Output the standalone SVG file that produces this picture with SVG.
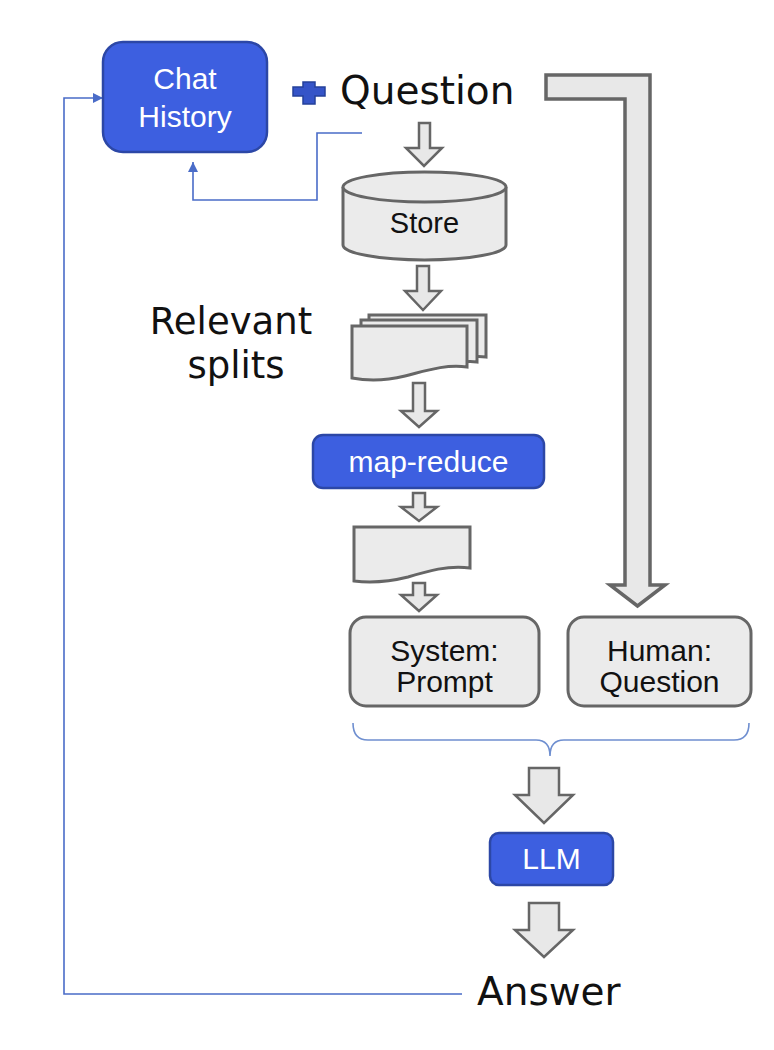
<svg xmlns="http://www.w3.org/2000/svg" width="774" height="1050" viewBox="0 0 774 1050">
<defs>
<style>
.blue{fill:#3d5fe0;stroke:#2c47a6;stroke-width:2.5}
.gray{fill:#ebebeb;stroke:#666;stroke-width:3}
.harrow{fill:#e8e8e8;stroke:#666;stroke-width:2.5;stroke-linejoin:miter}
.wt{font-family:"Liberation Sans",Arial,sans-serif;font-size:30px;fill:#fff;text-anchor:middle}
.bt{font-family:"Liberation Sans",Arial,sans-serif;font-size:30px;fill:#111;text-anchor:middle}
.big{font-family:"DejaVu Sans","Open Sans",sans-serif;font-size:39px;fill:#111}
.conn{fill:none;stroke:#4a6cc8;stroke-width:1.6}
.brace{fill:none;stroke:#6f8fd0;stroke-width:1.6}
</style>
<marker id="ah" viewBox="0 0 10 10" refX="10" refY="5" markerWidth="10" markerHeight="10" markerUnits="userSpaceOnUse" orient="auto">
<path d="M0,0 L10,5 L0,10 Z" fill="#4a6cc8"/>
</marker>
</defs>

<g id="connectors">
<path class="conn" d="M462,994 H64 V98 H103" marker-end="url(#ah)"/>
<path class="conn" d="M362,133 H317 V200 H193 V162" marker-end="url(#ah)"/>
<path class="brace" d="M353,723 Q353,740 368,740 H536 Q550,740 550,756 Q550,740 564,740 H734 Q749,740 749,723"/>
<path class="harrow" d="M419,123 H430 V148 H442 L424,166 L406,148 H419 Z"/>
<path class="harrow" d="M417,266 H429 V291 H441 L423,310 L405,291 H417 Z"/>
<path class="harrow" d="M413,383 H425 V411 H437 L419,427 L401,411 H413 Z"/>
<path class="harrow" d="M413,493 H425 V507 H437 L419,521 L401,507 H413 Z"/>
<path class="harrow" d="M413,583 H425 V595 H437 L419,611 L401,595 H413 Z"/>
<path class="harrow" d="M546,75 H650 V585 H665 L637.5,606 L610,585 H625 V99 H546 Z" style="stroke-width:3.5"/>
<path class="harrow" d="M529,768 H559 V795 H573 L544,823 L515,795 H529 Z"/>
<path class="harrow" d="M529,903 H559 V930 H573 L544,957 L515,930 H529 Z"/>
</g>

<g id="chat-history">
<rect class="blue" x="103" y="42" width="164" height="110" rx="20"/>
<text class="wt" x="185" y="89">Chat</text>
<text class="wt" x="185" y="127">History</text>
</g>

<g id="plus">
<path d="M303,82 H315 V87 H325 V96 H315 V104 H303 V96 H293 V87 H303 Z" fill="#3554c8" stroke="#24409a" stroke-width="1.5"/>
</g>

<g id="question">
<text class="big" x="340" y="104">Question</text>
</g>

<g id="store">
<path class="gray" d="M343,187 V245 A81.5,15 0 0 0 506,245 V187"/>
<ellipse class="gray" cx="424.5" cy="187" rx="81.5" ry="15"/>
<text class="bt" x="424.5" y="233" style="font-size:29px">Store</text>
</g>

<g id="relevant-splits">
<text class="big" x="231" y="334" text-anchor="middle" style="font-size:37px">Relevant</text>
<text class="big" x="236" y="378" text-anchor="middle" style="font-size:37px">splits</text>
<path class="gray" d="M369,315 H486 V357 C470,355 455,360 440,363 L369,363 Z"/>
<path class="gray" d="M361,320 H477 V362 C460,360 445,366 430,369 L361,369 Z"/>
<path class="gray" d="M352,326 H467 V367 C445,364 425,371 405,376 C385,381 367,381 352,378 Z"/>
</g>

<g id="map-reduce">
<rect class="blue" x="313" y="435" width="231" height="53" rx="10"/>
<text class="wt" x="428.5" y="472">map-reduce</text>
</g>

<g id="summary-doc">
<path class="gray" d="M354,527 H470 V568 C448,565 428,571 408,577 C388,582 370,583 354,581 Z"/>
</g>

<g id="system-prompt">
<rect class="gray" x="350" y="617" width="189" height="89" rx="16"/>
<text class="bt" x="444.5" y="661">System:</text>
<text class="bt" x="444.5" y="692">Prompt</text>
</g>

<g id="human-question">
<rect class="gray" x="568" y="617" width="183" height="89" rx="16"/>
<text class="bt" x="659.5" y="661">Human:</text>
<text class="bt" x="659.5" y="692">Question</text>
</g>

<g id="llm">
<rect class="blue" x="490" y="833" width="123" height="52" rx="9"/>
<text class="wt" x="551.5" y="869">LLM</text>
</g>

<g id="answer">
<text class="big" x="477" y="1005">Answer</text>
</g>
</svg>
